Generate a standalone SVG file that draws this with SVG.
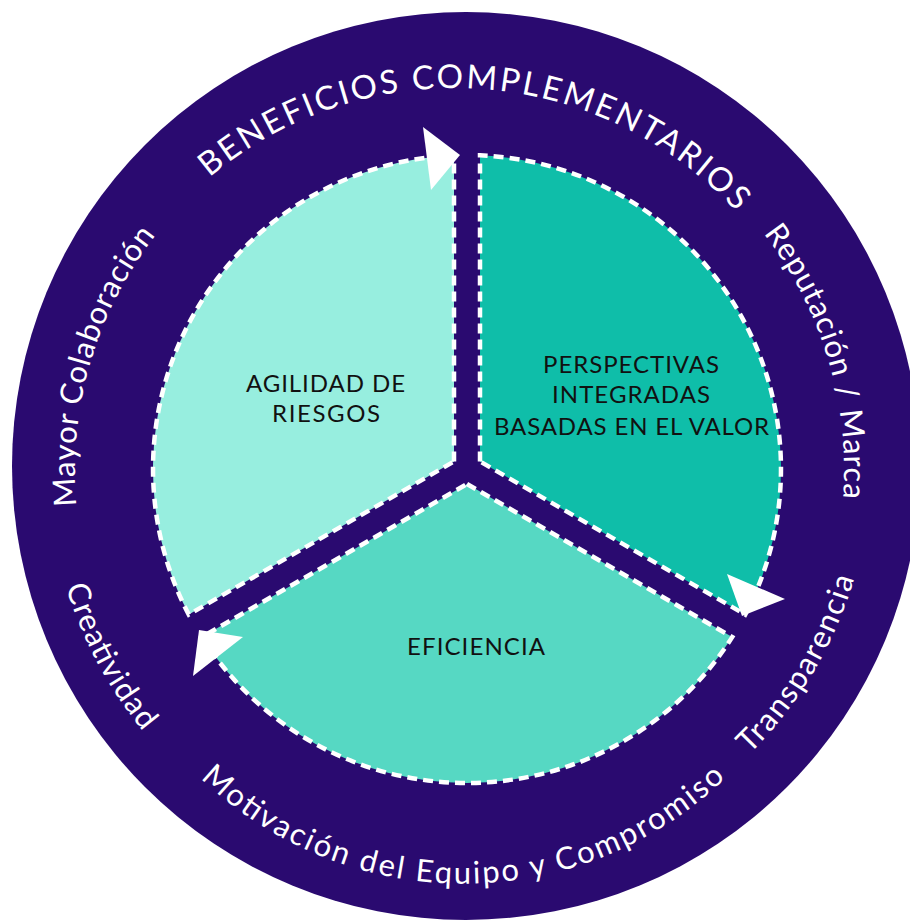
<svg xmlns="http://www.w3.org/2000/svg" width="910" height="923" viewBox="0 0 910 923">
<style>
.seg{stroke:#ffffff;stroke-width:4.5;stroke-dasharray:10 6;}
.lbl{font-family:Lato,"Noto Sans","Liberation Sans",sans-serif;font-size:24px;fill:#111111;text-anchor:middle;}
.rt{font-family:Lato,"Noto Sans","Liberation Sans",sans-serif;fill:#ffffff;}
.arrow{fill:#ffffff;}
</style>
<defs>
<path id="p-top" d="M83.9,379.5 A382,382 0 0 1 834.7,428.1"/>
<path id="p-left" d="M287.2,811.6 A381,381 0 0 1 497.8,91.3"/>
<path id="p-right" d="M410.7,84.7 A388,388 0 0 1 630.3,816.7"/>
<path id="p-crea" d="M208.1,137.1 A418,418 0 0 0 595.9,863.3"/>
<path id="p-bottom" d="M89.8,570.8 A379,379 0 0 0 836.2,570.8"/>
<path id="p-trans" d="M322.5,843.7 A404,404 0 0 0 730,160.2"/>
</defs>
<rect x="0" y="0" width="910" height="923" fill="#ffffff"/>
<g id="outer-ring">
<circle cx="466" cy="466" r="454" fill="#2a0a70"/>
<text class="rt" font-size="33"><textPath href="#p-top" startOffset="50%" text-anchor="middle" textLength="583" lengthAdjust="spacing">BENEFICIOS COMPLEMENTARIOS</textPath></text>
<text class="rt" font-size="31"><textPath href="#p-left" startOffset="50%" text-anchor="middle" textLength="289" lengthAdjust="spacing">Mayor Colaboración</textPath></text>
<text class="rt" font-size="31"><textPath href="#p-right" startOffset="50%" text-anchor="middle" textLength="283" lengthAdjust="spacing">Reputación / Marca</textPath></text>
<text class="rt" font-size="31"><textPath href="#p-crea" startOffset="50%" text-anchor="middle" textLength="165" lengthAdjust="spacing">Creatividad</textPath></text>
<text class="rt" font-size="31"><textPath href="#p-bottom" startOffset="50%" text-anchor="middle" textLength="580" lengthAdjust="spacing">Motivación del Equipo y Compromiso</textPath></text>
<text class="rt" font-size="31"><textPath href="#p-trans" startOffset="50%" text-anchor="middle" textLength="207" lengthAdjust="spacing">Transparencia</textPath></text>
</g>
<g id="node-agilidad">
<path class="seg" fill="#97eedf" d="M454,461.5 L454,155.3 A314,314 0 0 0 188.8,614.6 Z"/>
<text class="lbl" x="325.5" y="391.5" textLength="159" lengthAdjust="spacing">AGILIDAD DE</text>
<text class="lbl" x="326" y="422" textLength="108" lengthAdjust="spacing">RIESGOS</text>
</g>
<g id="node-perspectivas">
<path class="seg" fill="#0fbea9" d="M480,461.5 L480,155.3 A314,314 0 0 1 745.2,614.6 Z"/>
<text class="lbl" x="631" y="372.5" textLength="176" lengthAdjust="spacing">PERSPECTIVAS</text>
<text class="lbl" x="631" y="403" textLength="158" lengthAdjust="spacing">INTEGRADAS</text>
<text class="lbl" x="631.5" y="434.5" textLength="275" lengthAdjust="spacing">BASADAS EN EL VALOR</text>
</g>
<g id="node-eficiencia">
<path class="seg" fill="#56d8c3" d="M467,484 L732.2,637.1 A314,314 0 0 1 201.8,637.1 Z"/>
<text class="lbl" x="476" y="654.5" textLength="138" lengthAdjust="spacing">EFICIENCIA</text>
</g>
<g id="connectors">
<polygon class="arrow" points="423,127 460,155 431,190"/>
<polygon class="arrow" points="727,574 785,599 742,616"/>
<polygon class="arrow" points="199,630 243,637 193,676"/>
</g>
</svg>
